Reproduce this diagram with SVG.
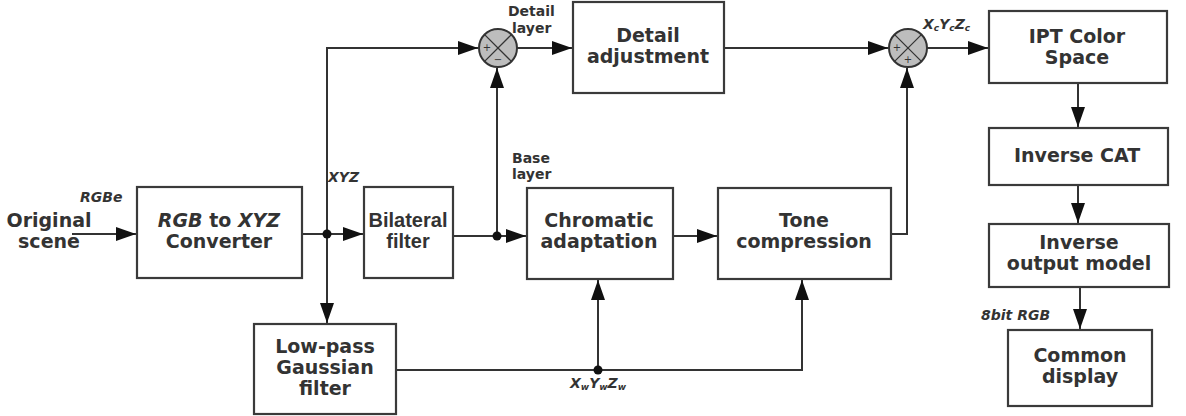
<svg xmlns="http://www.w3.org/2000/svg" width="1186" height="416" viewBox="0 0 1186 416">
<style>
.box{fill:#fff;stroke:#3a3a3a;stroke-width:2.2}
.t{font-family:"DejaVu Sans","Liberation Sans",sans-serif;font-weight:bold;font-size:19px;fill:#333;text-anchor:middle}
.n{font-family:"Liberation Sans",Arial,sans-serif;font-size:20px}
.s{font-family:"DejaVu Sans","Liberation Sans",sans-serif;font-weight:bold;font-size:14px;fill:#333}
.i{font-style:italic}
.ln{fill:none;stroke:#333;stroke-width:2}
.sum{fill:#bdbdbd;stroke:#333;stroke-width:2}
.sg{font-family:"DejaVu Sans",sans-serif;font-size:10px;fill:#333;text-anchor:middle}
.sub{font-size:9px}
</style>
<defs>
<marker id="a" viewBox="0 0 20 14" refX="20" refY="7" markerWidth="20" markerHeight="14" markerUnits="userSpaceOnUse" orient="auto">
<path d="M0,0 L20,7 L0,14 z" fill="#111"/>
</marker>
</defs>
<g id="connectors">
<path class="ln" d="M72,234 H136" marker-end="url(#a)"/>
<path class="ln" d="M302,234 H363" marker-end="url(#a)"/>
<path class="ln" d="M327,234 V323" marker-end="url(#a)"/>
<path class="ln" d="M327,234 V48 H478" marker-end="url(#a)"/>
<path class="ln" d="M453,236 H526" marker-end="url(#a)"/>
<path class="ln" d="M497,236 V68" marker-end="url(#a)"/>
<path class="ln" d="M517,48 H572" marker-end="url(#a)"/>
<path class="ln" d="M725,48 H888" marker-end="url(#a)"/>
<path class="ln" d="M673,236 H717" marker-end="url(#a)"/>
<path class="ln" d="M891,234 H907 V68" marker-end="url(#a)"/>
<path class="ln" d="M927,48 H988" marker-end="url(#a)"/>
<path class="ln" d="M1078,84 V127" marker-end="url(#a)"/>
<path class="ln" d="M1078,186 V223" marker-end="url(#a)"/>
<path class="ln" d="M1080,288 V329" marker-end="url(#a)"/>
<path class="ln" d="M397,370 H802 V280" marker-end="url(#a)"/>
<path class="ln" d="M598,370 V280" marker-end="url(#a)"/>
<circle cx="327" cy="234" r="4.5" fill="#111"/>
<circle cx="497" cy="236" r="4.5" fill="#111"/>
<circle cx="598" cy="370" r="4.5" fill="#111"/>
</g>
<g id="sum1">
<circle class="sum" cx="498" cy="48" r="19"/>
<path d="M484.6,34.6 L511.4,61.4 M511.4,34.6 L484.6,61.4" stroke="#333" stroke-width="1.3"/>
<text class="sg" x="487" y="51">+</text>
<text class="sg" x="498" y="63">−</text>
</g>
<g id="sum2">
<circle class="sum" cx="908" cy="48" r="19"/>
<path d="M894.6,34.6 L921.4,61.4 M921.4,34.6 L894.6,61.4" stroke="#333" stroke-width="1.3"/>
<text class="sg" x="897" y="51">+</text>
<text class="sg" x="908" y="63">+</text>
</g>
<g id="original">
<text class="t" x="49" y="227">Original</text>
<text class="t" x="49" y="248">scene</text>
<text class="s i" x="80" y="202" font-size="15">RGBe</text>
</g>
<g id="rgb2xyz">
<rect class="box" x="137" y="187" width="165" height="91"/>
<text class="t" x="219" y="227"><tspan font-style="italic">RGB</tspan> to <tspan font-style="italic">XYZ</tspan></text>
<text class="t" x="219" y="248">Converter</text>
</g>
<text class="s i" x="328" y="182" font-size="15">XYZ</text>
<g id="bilateral">
<rect class="box" x="364" y="187" width="89" height="91"/>
<text class="t n" x="408" y="227">Bilateral</text>
<text class="t n" x="408" y="248">filter</text>
</g>
<g id="chromatic">
<rect class="box" x="527" y="188" width="146" height="91"/>
<text class="t" x="599" y="227">Chromatic</text>
<text class="t" x="599" y="248">adaptation</text>
</g>
<text class="s" x="512" y="163">Base</text>
<text class="s" x="512" y="179">layer</text>
<g id="tone">
<rect class="box" x="718" y="188" width="173" height="91"/>
<text class="t" x="804" y="227">Tone</text>
<text class="t" x="804" y="248">compression</text>
</g>
<g id="detail">
<rect class="box" x="573" y="2" width="151" height="91"/>
<text class="t" x="648" y="42">Detail</text>
<text class="t" x="648" y="63">adjustment</text>
</g>
<text class="s" x="508" y="16">Detail</text>
<text class="s" x="512" y="33">layer</text>
<g id="lowpass">
<rect class="box" x="254" y="324" width="142" height="90"/>
<text class="t" x="325" y="353">Low-pass</text>
<text class="t" x="325" y="374">Gaussian</text>
<text class="t" x="325" y="395">filter</text>
</g>
<text class="s i" x="570" y="388">X<tspan class="sub" dy="2">w</tspan><tspan dy="-2">Y</tspan><tspan class="sub" dy="2">w</tspan><tspan dy="-2">Z</tspan><tspan class="sub" dy="2">w</tspan></text>
<text class="s i" x="923" y="29">X<tspan class="sub" dy="2">c</tspan><tspan dy="-2">Y</tspan><tspan class="sub" dy="2">c</tspan><tspan dy="-2">Z</tspan><tspan class="sub" dy="2">c</tspan></text>
<g id="ipt">
<rect class="box" x="989" y="11" width="178" height="72"/>
<text class="t" x="1077" y="43">IPT Color</text>
<text class="t" x="1077" y="64">Space</text>
</g>
<g id="invcat">
<rect class="box" x="989" y="128" width="179" height="57"/>
<text class="t" x="1077" y="162">Inverse CAT</text>
</g>
<g id="invout">
<rect class="box" x="989" y="224" width="180" height="63"/>
<text class="t" x="1079" y="249">Inverse</text>
<text class="t" x="1079" y="270">output model</text>
</g>
<text class="s i" x="981" y="320" font-size="15">8bit RGB</text>
<g id="display">
<rect class="box" x="1008" y="330" width="144" height="76"/>
<text class="t" x="1080" y="362">Common</text>
<text class="t" x="1080" y="383">display</text>
</g>
</svg>
